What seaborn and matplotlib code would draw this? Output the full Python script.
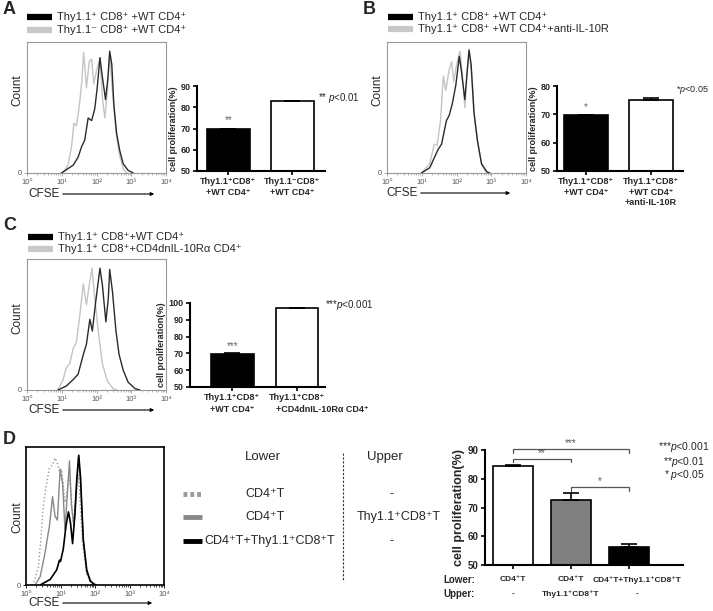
import numpy as np
import pandas as pd
import matplotlib
matplotlib.use("Agg")
from matplotlib import pyplot as plt
from matplotlib.lines import Line2D
import seaborn as sns

# CFSE histograms, x in log10 units, y as fraction of the plot height
a_black_x = [0.99, 1.33, 1.47, 1.57, 1.66, 1.76, 1.86, 1.95, 2.02, 2.10, 2.16, 2.26, 2.33, 2.38, 2.44, 2.50, 2.58, 2.67, 2.77, 2.91, 3.06]
a_black_y = [0, 0.06, 0.12, 0.20, 0.25, 0.42, 0.40, 0.49, 0.65, 0.88, 0.75, 0.56, 0.73, 0.93, 0.83, 0.52, 0.30, 0.17, 0.07, 0.02, 0]
a_gray_x = [1.04, 1.18, 1.28, 1.35, 1.42, 1.50, 1.57, 1.63, 1.71, 1.79, 1.86, 1.92, 2.00, 2.10, 2.17, 2.24, 2.31, 2.38, 2.46, 2.56, 2.65, 2.77, 2.87]
a_gray_y = [0, 0.06, 0.20, 0.38, 0.36, 0.50, 0.68, 0.92, 0.65, 0.85, 0.87, 0.68, 0.78, 0.88, 0.57, 0.42, 0.62, 0.91, 0.62, 0.32, 0.15, 0.03, 0]

b_black_x = [0.99, 1.23, 1.47, 1.57, 1.71, 1.79, 1.88, 1.98, 2.08, 2.14, 2.24, 2.31, 2.36, 2.42, 2.50, 2.60, 2.72, 2.87, 2.96]
b_black_y = [0, 0.04, 0.18, 0.22, 0.40, 0.44, 0.53, 0.67, 0.89, 0.78, 0.56, 0.78, 0.94, 0.83, 0.47, 0.25, 0.07, 0.01, 0]
b_gray_x = [0.99, 1.23, 1.36, 1.44, 1.54, 1.62, 1.69, 1.79, 1.86, 1.92, 2.02, 2.10, 2.17, 2.24, 2.31, 2.37, 2.44, 2.52, 2.62, 2.73, 2.87]
b_gray_y = [0, 0.07, 0.22, 0.21, 0.40, 0.74, 0.63, 0.79, 0.85, 0.70, 0.85, 0.93, 0.75, 0.50, 0.80, 0.92, 0.75, 0.42, 0.22, 0.06, 0]

c_black_x = [0.89, 1.13, 1.33, 1.47, 1.62, 1.71, 1.81, 1.88, 1.98, 2.10, 2.17, 2.27, 2.34, 2.38, 2.46, 2.56, 2.65, 2.77, 2.91, 3.11, 3.25]
c_black_y = [0, 0.03, 0.08, 0.12, 0.27, 0.35, 0.54, 0.45, 0.68, 0.93, 0.80, 0.52, 0.70, 0.92, 0.75, 0.45, 0.27, 0.15, 0.06, 0.01, 0]
c_gray_x = [0.89, 1.04, 1.13, 1.23, 1.33, 1.42, 1.52, 1.62, 1.71, 1.79, 1.87, 1.94, 2.05, 2.17, 2.31, 2.48, 2.58]
c_gray_y = [0, 0.08, 0.17, 0.20, 0.32, 0.36, 0.57, 0.81, 0.65, 0.80, 0.93, 0.73, 0.45, 0.20, 0.07, 0.01, 0]

d_dot_x = [0.16, 0.26, 0.36, 0.43, 0.50, 0.58, 0.68, 0.77, 0.84, 0.91, 0.97, 1.03, 1.13, 1.26, 1.37, 1.52, 1.64, 1.76, 1.90]
d_dot_y = [0, 0.04, 0.13, 0.33, 0.57, 0.71, 0.85, 0.87, 0.92, 0.88, 0.82, 0.84, 0.60, 0.78, 0.45, 0.80, 0.30, 0.08, 0]
d_gray_x = [0.26, 0.41, 0.55, 0.68, 0.77, 0.84, 0.91, 0.99, 1.06, 1.13, 1.26, 1.32, 1.39, 1.52, 1.58, 1.66, 1.76, 1.90, 2.05]
d_gray_y = [0, 0.06, 0.23, 0.43, 0.64, 0.50, 0.47, 0.84, 0.74, 0.40, 0.90, 0.57, 0.43, 0.93, 0.76, 0.33, 0.09, 0.02, 0]
d_black_x = [0.41, 0.70, 0.89, 0.97, 1.00, 1.08, 1.16, 1.23, 1.29, 1.35, 1.42, 1.47, 1.53, 1.58, 1.66, 1.76, 1.86, 2.00]
d_black_y = [0, 0.04, 0.11, 0.18, 0.17, 0.26, 0.43, 0.53, 0.45, 0.30, 0.52, 0.76, 0.94, 0.78, 0.33, 0.11, 0.03, 0]

# Proliferation bars
a_labels = ["Thy1.1⁺CD8⁺\n+WT CD4⁺", "Thy1.1⁻CD8⁺\n+WT CD4⁺"]
a_vals = [69.7, 82.8]
a_err = [0.3, 0.3]
b_labels = ["Thy1.1⁺CD8⁺\n+WT CD4⁺", "Thy1.1⁺CD8⁺\n+WT CD4⁺\n+anti-IL-10R"]
b_vals = [69.6, 75.2]
b_err = [0.3, 0.5]
c_labels = ["Thy1.1⁺CD8⁺\n+WT CD4⁺", "Thy1.1⁺CD8⁺\n+CD4dnIL-10Rα CD4⁺"]
c_vals = [69.9, 96.8]
c_err = [0.2, 0.2]
d_lower = ["CD4⁺T", "CD4⁺T", "CD4⁺T+Thy1.1⁺CD8⁺T"]
d_upper = ["-", "Thy1.1⁺CD8⁺T", "-"]
d_vals = [84.3, 72.5, 56.3]
d_err = [0.5, 2.7, 0.9]

sns.set_style("white")
plt.rcParams["font.family"] = ["Liberation Sans", "DejaVu Sans"]
plt.rcParams["mathtext.fontset"] = "custom"
plt.rcParams["mathtext.it"] = "Liberation Sans:italic"
plt.rcParams["mathtext.rm"] = "Liberation Sans"

W, H = 713, 611
fig = plt.figure(figsize=(W / 100, H / 100), dpi=100)


def px_axes(x0, y0, x1, y1):
    return fig.add_axes([x0 / W, 1 - y1 / H, (x1 - x0) / W, (y1 - y0) / H])


def ftext(x, y, s, **kw):
    kw.setdefault("va", "center")
    fig.text(x / W, 1 - y / H, s, **kw)


def fline(xs, ys, **kw):
    fig.add_artist(Line2D([x / W for x in xs], [1 - y / H for y in ys], **kw))


def farrow(x0, x1, y):
    fig.add_artist(matplotlib.patches.FancyArrowPatch(
        (x0 / W, 1 - y / H), (x1 / W, 1 - y / H), transform=fig.transFigure,
        arrowstyle="-|>", mutation_scale=5, lw=0.8, color="black"))


def hist_panel(box, curves, edge="#999999", lw=0.8):
    ax = px_axes(*box)
    for xs, ys, col, ls, w in curves:
        sns.lineplot(x=xs, y=ys, ax=ax, color=col, linestyle=ls, lw=w, sort=False)
    ax.set_xlim(0, 4)
    ax.set_ylim(0, 1)
    for s in ax.spines.values():
        s.set_color(edge)
        s.set_linewidth(lw)
    ax.set_xticks([0, 1, 2, 3, 4])
    ax.set_xticklabels(["10⁰", "10¹", "10²", "10³", "10⁴"], fontsize=5.5, color="#555555")
    minors = [k + np.log10(m) for k in range(4) for m in range(2, 10)]
    ax.set_xticks(minors, minor=True)
    ax.set_yticks([0])
    ax.set_yticklabels(["0"], fontsize=5.5, color="#555555")
    ax.tick_params(axis="both", which="major", direction="out", length=2.5, width=0.6,
                   color=edge, pad=1.5, bottom=True, left=True)
    ax.tick_params(axis="x", which="minor", direction="out", length=1.5, width=0.5,
                   color=edge, bottom=True)
    ax.set_xlabel("")
    ax.set_ylabel("")
    return ax


def bar_panel(box, labels, vals, errs, colors, ylim, width, xlim, fs=6.5, lw=1.2):
    ax = px_axes(*box)
    df = pd.DataFrame({"group": labels, "value": vals})
    sns.barplot(data=df, x="group", y="value", hue="group", palette=colors,
                legend=False, edgecolor="black", linewidth=lw, width=width,
                errorbar=None, ax=ax)
    ax.errorbar(range(len(vals)), vals, yerr=[[0] * len(vals), errs], fmt="none",
                ecolor="black", elinewidth=lw, capsize=6, capthick=lw)
    ax.set_ylim(*ylim)
    ax.set_xlim(*xlim)
    sns.despine(ax=ax)
    for s in ["left", "bottom"]:
        ax.spines[s].set_linewidth(1.5)
        ax.spines[s].set_color("black")
    ax.tick_params(axis="both", direction="out", length=3, width=1.2, color="black",
                   bottom=True, left=True, pad=1.5)
    ax.set_yticks(np.arange(ylim[0], ylim[1] + 1, 10))
    ax.set_xlabel("")
    for t in ax.get_yticklabels():
        t.set_fontsize(fs)
        t.set_fontweight("bold")
    for t in ax.get_xticklabels():
        t.set_fontsize(fs)
        t.set_fontweight("bold")
    return ax


# panel letters
for lab, x, y in [("A", 3, 10), ("B", 363, 10), ("C", 3, 225), ("D", 3, 440)]:
    ftext(x, y, lab, fontsize=13, fontweight="bold")

# legends for A, B, C
legs = [
    (27, 17, "Thy1.1⁺ CD8⁺ +WT CD4⁺", 30, "Thy1.1⁻ CD8⁺ +WT CD4⁺"),
    (388, 17, "Thy1.1⁺ CD8⁺ +WT CD4⁺", 29, "Thy1.1⁺ CD8⁺ +WT CD4⁺+anti-IL-10R"),
    (28, 237, "Thy1.1⁺ CD8⁺+WT CD4⁺", 249, "Thy1.1⁺ CD8⁺+CD4dnIL-10Rα CD4⁺"),
]
for x, y1, t1, y2, t2 in legs:
    fline([x, x + 25], [y1, y1], color="black", lw=4.5, solid_capstyle="butt")
    fline([x, x + 25], [y2, y2], color="#c8c8c8", lw=4.5, solid_capstyle="butt")
    ftext(x + 30, y1, t1, fontsize=8)
    ftext(x + 30, y2, t2, fontsize=8)

# histograms
hist_panel((27, 42, 166, 173), [(a_gray_x, a_gray_y, "#c4c4c4", "-", 1.0),
                                (a_black_x, a_black_y, "#2a2a2a", "-", 1.0)])
hist_panel((387, 42, 526, 173), [(b_gray_x, b_gray_y, "#c4c4c4", "-", 1.0),
                                 (b_black_x, b_black_y, "#2a2a2a", "-", 1.0)])
hist_panel((27, 259, 166, 390), [(c_gray_x, c_gray_y, "#c4c4c4", "-", 1.0),
                                 (c_black_x, c_black_y, "#2a2a2a", "-", 1.0)])
hist_panel((26, 447, 164, 585), [(d_dot_x, d_dot_y, "#9a9a9a", ":", 1.0),
                                 (d_gray_x, d_gray_y, "#888888", "-", 1.0),
                                 (d_black_x, d_black_y, "black", "-", 1.2)],
           edge="black", lw=1.2)

for x, y in [(17, 90), (377, 90), (17, 318), (17, 517)]:
    ftext(x, y, "Count", fontsize=8.5, rotation=90, ha="center")
for x0, y, x1 in [(28, 194, 157), (386, 193, 513), (28, 410, 157), (28, 603, 155)]:
    ftext(x0, y, "CFSE", fontsize=8.5)
    farrow(x0 + 32, x1, y)

# bar charts A-C
ax = bar_panel((197, 86, 325, 171), a_labels, a_vals, a_err, ["black", "white"],
               (50, 90), 0.67, (-0.49, 1.51))
ax.set_ylabel("cell proliferation(%)", fontsize=6.5, fontweight="bold", labelpad=2)
ax.text(0, 72.5, "**", ha="center", fontsize=7, color="#666666")
ftext(318, 98, "** $\\it{p}$<0.01", fontsize=7)

ax = bar_panel((557, 86, 683, 171), b_labels, b_vals, b_err, ["black", "white"],
               (50, 80), 0.68, (-0.45, 1.5))
ax.set_ylabel("cell proliferation(%)", fontsize=6.5, fontweight="bold", labelpad=2)
ax.text(0, 71.5, "*", ha="center", fontsize=7, color="#666666")
ftext(676, 90, "*$\\it{p}$<0.05", fontsize=6.5)

ax = bar_panel((190, 303, 325, 387), c_labels, c_vals, c_err, ["black", "white"],
               (50, 100), 0.66, (-0.66, 1.44))
ax.set_ylabel("cell proliferation(%)", fontsize=6.5, fontweight="bold", labelpad=2)
ax.text(0, 72.5, "***", ha="center", fontsize=7, color="#666666")
ftext(325, 305, "***$\\it{p}$<0.001", fontsize=7)
# first line under each bar as tick label, second line placed by hand like the original
ax.set_xticks([0, 1])
ax.set_xticklabels([lab.split("\n")[0] for lab in c_labels], fontsize=6.5, fontweight="bold")
ax.text(0, -0.27, c_labels[0].split("\n")[1], transform=ax.get_xaxis_transform(),
        ha="center", va="center", fontsize=6.5, fontweight="bold")
ax.text(0.67, -0.27, c_labels[1].split("\n")[1], transform=ax.get_xaxis_transform(),
        ha="left", va="center", fontsize=6.5, fontweight="bold")

# panel D bar chart (groups keyed by lower+upper so they stay distinct)
d_groups = [lo + " / " + up for lo, up in zip(d_lower, d_upper)]
ax = bar_panel((485, 450, 683, 565), d_groups, d_vals, d_err, ["white", "#808080", "black"],
               (50, 90), 0.7, (-0.48, 2.93), fs=6.0)
ax.set_ylabel("cell proliferation(%)", fontsize=9, fontweight="bold", labelpad=2)
ax.set_xticks([0, 1, 2])
ax.set_xticklabels([])
for i, (lo, up) in enumerate(zip(d_lower, d_upper)):
    dx = 0.14 if i == 2 else 0
    ax.text(i + dx, -0.13, lo, transform=ax.get_xaxis_transform(), ha="center",
            va="center", fontsize=6.0, fontweight="bold")
    ax.text(i + dx, -0.25, up, transform=ax.get_xaxis_transform(), ha="center",
            va="center", fontsize=6.0, fontweight="bold")
plt.setp(ax.get_yticklabels(), fontsize=7)
for (i, j, top, leg, star) in [(0, 2, 90.3, 89.0, "***"), (0, 1, 86.9, 85.8, "**"),
                               (1, 2, 77.1, 75.7, "*")]:
    ax.plot([i, i, j, j], [leg, top, top, leg], color="#555555", lw=0.9, clip_on=False)
    ax.text((i + j) / 2, top + 0.4, star, ha="center", va="bottom", fontsize=7,
            color="#555555", clip_on=False)
ftext(443, 580, "Lower:", fontsize=7, fontweight="bold")
ftext(443, 594, "Upper:", fontsize=7, fontweight="bold")
ftext(684, 447, "***$\\it{p}$<0.001", fontsize=7.5, ha="center")
ftext(684, 462, "**$\\it{p}$<0.01", fontsize=7.5, ha="center")
ftext(684, 475, "* $\\it{p}$<0.05", fontsize=7.5, ha="center")

# panel D legend table
ftext(263, 457, "Lower", fontsize=9.5, ha="center")
ftext(385, 457, "Upper", fontsize=9.5, ha="center")
fline([343, 343], [453, 580], color="#333333", lw=0.8, linestyle=(0, (2, 1.5)))
fline([183, 202], [494, 494], color="#9a9a9a", lw=3.5, linestyle=(0, (0.8, 0.6)))
fline([183, 202], [517, 517], color="#888888", lw=3.5, solid_capstyle="butt")
fline([183, 202], [541, 541], color="black", lw=3.5, solid_capstyle="butt")
ftext(265, 494, "CD4⁺T", fontsize=9, ha="center")
ftext(265, 517, "CD4⁺T", fontsize=9, ha="center")
ftext(270, 541, "CD4⁺T+Thy1.1⁺CD8⁺T", fontsize=9, ha="center")
ftext(392, 494, "-", fontsize=9, ha="center")
ftext(399, 517, "Thy1.1⁺CD8⁺T", fontsize=9, ha="center")
ftext(392, 541, "-", fontsize=9, ha="center")

plt.savefig("out.png", dpi=100)
